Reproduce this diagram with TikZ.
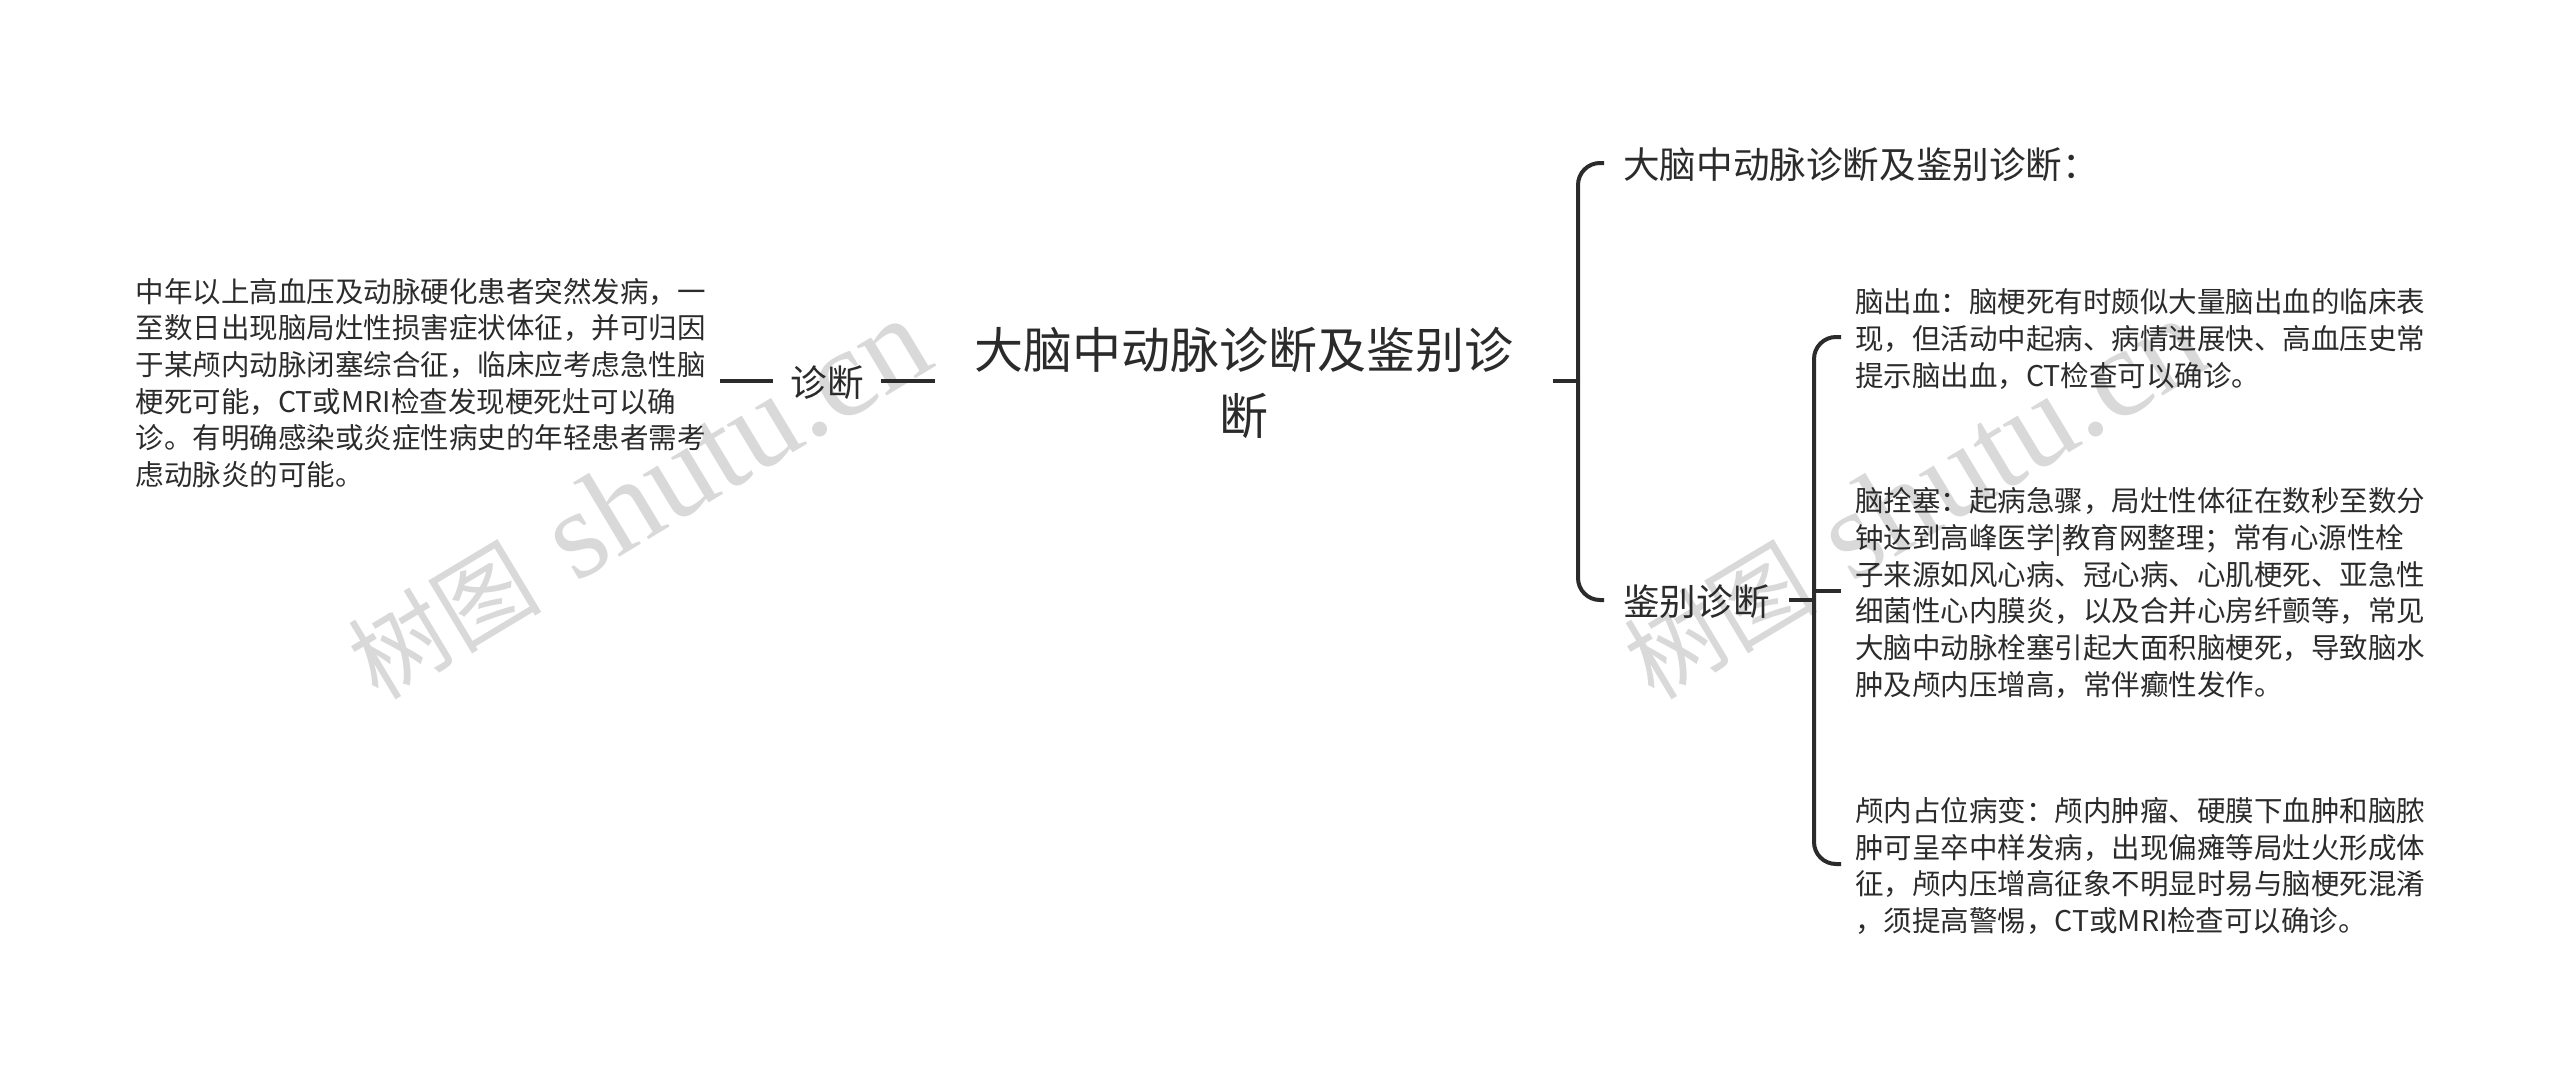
\documentclass[tikz,border=0pt]{standalone}
\usepackage{fontspec}
\setmainfont{Noto Sans CJK SC}
\newfontfamily\markfont{Liberation Serif}
\definecolor{inkdark}{HTML}{2B2B2B}
\definecolor{markgray}{HTML}{D9D9D9}
\tikzset{
  rootnode/.style={
    font=\fontsize{49}{66}\selectfont,
    align=center,
    minimum width=618pt,
    text=inkdark
  },
  branchnode/.style={
    font=\fontsize{36.6}{44}\selectfont,
    anchor=west,
    inner xsep=19pt,
    text=inkdark
  },
  leafnode/.style={
    font=\fontsize{28.5}{36.7}\selectfont,
    align=left,
    anchor=west,
    inner xsep=14pt,
    text=inkdark
  },
  link/.style={
    line width=4pt,
    inkdark,
    rounded corners=22pt
  },
  watermark/.style={
    font=\fontsize{97}{100}\selectfont,
    anchor=base west,
    rotate=31,
    inner sep=0pt,
    text=markgray
  }
}
\newcommand{\marktext}{树图\hspace{36pt}{\markfont\fontsize{126}{126}\selectfont shutu.cn}}
\begin{document}
\begin{tikzpicture}[x=1pt,y=-1pt]
  \useasboundingbox (0,0) rectangle (2560,1073);
  \node [watermark] (markleft) at (378,702) {\marktext};
  \node [watermark] (markright) at (1654,702) {\marktext};
  \node [rootnode] (root) at (1244,383) {大脑中动脉诊断及鉴别诊\\断};
  \node [branchnode, anchor=center, minimum width=108pt, inner xsep=0pt] (diag) at (827,383) {诊断};
  \node [leafnode, anchor=east] (diagnote) at (720,383) {中年以上高血压及动脉硬化患者突然发病，一\\至数日出现脑局灶性损害症状体征，并可归因\\于某颅内动脉闭塞综合征，临床应考虑急性脑\\梗死可能，CT或MRI检查发现梗死灶可以确\\诊。有明确感染或炎症性病史的年轻患者需考\\虑动脉炎的可能。};
  \node [branchnode] (headline) at (1604,165) {大脑中动脉诊断及鉴别诊断：};
  \node [branchnode] (differ) at (1604,602) {鉴别诊断};
  \node [leafnode] (bleed) at (1841,339) {脑出血：脑梗死有时颇似大量脑出血的临床表\\现，但活动中起病、病情进展快、高血压史常\\提示脑出血，CT检查可以确诊。};
  \node [leafnode] (embol) at (1841,593) {脑拴塞：起病急骤，局灶性体征在数秒至数分\\钟达到高峰医学|教育网整理；常有心源性栓\\子来源如风心病、冠心病、心肌梗死、亚急性\\细菌性心内膜炎，以及合并心房纤颤等，常见\\大脑中动脉栓塞引起大面积脑梗死，导致脑水\\肿及颅内压增高，常伴癫性发作。};
  \node [leafnode] (mass) at (1841,866) {颅内占位病变：颅内肿瘤、硬膜下血肿和脑脓\\肿可呈卒中样发病，出现偏瘫等局灶火形成体\\征，颅内压增高征象不明显时易与脑梗死混淆\\，须提高警惕，CT或MRI检查可以确诊。};
  \coordinate (hubroot) at (1578,381);
  \coordinate (hubdiffer) at (1814,600);
  % lines sit 2pt above the text centres
  \draw [link] ([yshift=2pt]diagnote.east) -- ([yshift=2pt]diag.west);
  \draw [link] ([yshift=2pt]diag.east) -- ([yshift=2pt]root.west);
  \draw [link] ([yshift=2pt]root.east) -- (hubroot);
  \draw [link] (hubroot) |- ([yshift=2pt]headline.west);
  \draw [link] (hubroot) |- ([yshift=2pt]differ.west);
  \draw [link] ([yshift=2pt]differ.east) -- (hubdiffer);
  \draw [link] (hubdiffer) |- ([yshift=2pt]bleed.west);
  \draw [link] (hubdiffer |- embol.west) ++(0,-2) -- ([yshift=2pt]embol.west);
  \draw [link] (hubdiffer) |- ([yshift=2pt]mass.west);
\end{tikzpicture}
\end{document}
